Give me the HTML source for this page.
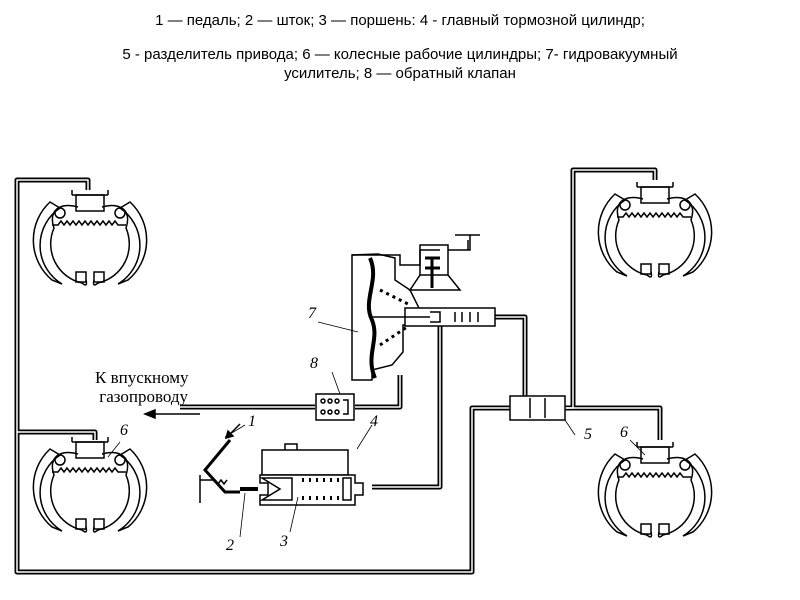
<!DOCTYPE html>
<html><head><meta charset="utf-8"><style>
html,body{margin:0;padding:0;background:#fff;width:800px;height:600px;overflow:hidden}
.h{position:absolute;left:0;width:800px;text-align:center;font-family:"Liberation Sans",sans-serif;font-size:15px;color:#000}
</style></head><body>
<div class="h" style="top:12px">1 — педаль; 2 — шток; 3 — поршень: 4 - главный тормозной цилиндр;</div>
<div class="h" style="top:46px">5 - разделитель привода; 6 — колесные рабочие цилиндры; 7- гидровакуумный</div>
<div class="h" style="top:65px">усилитель; 8 — обратный клапан</div>
<svg width="800" height="600" style="position:absolute;left:0;top:0" fill="none" stroke="#000" stroke-width="1.5">
<defs>
<g id="drum">
<path d="M-40,-38 A52,52 0 0 0 -38,40 L-28,44 A45,45 0 0 1 -30,-32 Z"/>
<path d="M40,-38 A52,52 0 0 1 38,40 L28,44 A45,45 0 0 0 30,-32 Z"/>
<path d="M-12,-33 C-30,-38 -42,-30 -36,-12 A40,40 0 0 0 -8,43 Q-2,48 -4,40"/>
<path d="M12,-33 C30,-38 42,-30 36,-12 A40,40 0 0 1 8,43 Q2,48 4,40"/>
<rect x="-14" y="-45" width="28" height="16"/>
<path d="M-18,-45 h36 M-18,-50 v5 M18,-50 v5"/>
<circle cx="-30" cy="-27" r="5"/><circle cx="30" cy="-27" r="5"/>
<path d="M-38,-15 h6 l3,-4 l3,4 l3,-4 l3,4 l3,-4 l3,4 l3,-4 l3,4 l3,-4 l3,4 l3,-4 l3,4 l3,-4 l3,4 l3,-4 l3,4 l3,-4 l3,4 l3,-4 l3,4 h8"/>
<path d="M-14,32 h10 v10 h-10 z M4,32 h10 v10 h-10z"/>
</g>
</defs>
<use href="#drum" x="90" y="240"/>
<use href="#drum" x="655" y="232"/>
<use href="#drum" x="90" y="487"/>
<use href="#drum" x="655" y="492"/>
<g stroke-width="5" stroke-linejoin="round">
<path d="M88,190 V180 H17 V572 H472 V408 H510"/>
<path d="M17,432 H95 V440"/>
<path d="M565,408 H573 V170 H655 V180"/>
<path d="M565,408 H660 V440"/>
<path d="M495,317 H525 V396"/>
<path d="M372,487 H440 V320"/>
<path d="M180,407 H315 M355,407 H400 V375"/>
</g>
<g stroke="#fff" stroke-width="1.5" stroke-linejoin="round">
<path d="M88,190 V180 H17 V572 H472 V408 H510"/>
<path d="M17,432 H95 V440"/>
<path d="M565,408 H573 V170 H655 V180"/>
<path d="M565,408 H660 V440"/>
<path d="M495,317 H525 V396"/>
<path d="M372,487 H440 V320"/>
<path d="M180,407 H315 M355,407 H400 V375"/>
</g>
<rect x="510" y="396" width="55" height="24" fill="#fff"/>
<path d="M530,398 v20 M545,398 v20"/>
<rect x="316" y="394" width="38" height="26" fill="#fff"/>
<circle cx="323" cy="401" r="2"/><circle cx="330" cy="401" r="2"/><circle cx="337" cy="401" r="2"/>
<circle cx="323" cy="412" r="2"/><circle cx="330" cy="412" r="2"/><circle cx="337" cy="412" r="2"/>
<path d="M343,400 h5 v14 h-5"/>
<path d="M352,255 V380 L372,380 L372,370 L392,365 L403,352 V325 L420,325 V310 L410,290 L395,280 V258 L378,254 Z" fill="#fff"/>
<path d="M352,255 H400 V265 H420 V250 H440"/>
<path d="M370,258 C380,280 362,300 372,320 C380,340 365,355 375,378" stroke-width="4"/>
<rect x="420" y="245" width="28" height="30"/>
<path d="M420,275 L410,290 L460,290 L448,275"/>
<path d="M425,258 h15 M425,268 h15 M432,258 v30" stroke-width="3"/>
<path d="M448,250 H470 V235 H480 M455,235 h20 M468,240 v10" />
<path d="M380,290 l30,15 M380,345 l30,-20" stroke-dasharray="3,4" stroke-width="3"/>
<rect x="405" y="308" width="90" height="18" fill="#fff"/>
<path d="M370,317 H430 M430,312 h10 v10 h-10 M455,312 v10 M462,312 v10 M470,312 v10 M478,312 v10"/>
<rect x="262" y="450" width="86" height="25"/>
<path d="M285,450 v-6 h12 v6"/>
<path d="M260,475 h95 v8 h8 v12 h-8 v10 h-95 v-10 h8 v-12 h-8 z" fill="#fff"/>
<path d="M262,478 H292 V500 H262 L280,489 Z"/>
<path d="M302,480 h40 M302,498 h40" stroke-dasharray="2,5" stroke-width="4"/>
<rect x="343" y="478" width="8" height="22"/>
<path d="M240,489 h18" stroke-width="4"/>
<path d="M230,440 L205,470 L225,492 H240" stroke-width="3"/>
<path d="M200,475 v28 M200,480 h15 l3,4 l3,-4 l3,4 l3,-4" />
<path d="M240,424 l-12,12" /><path d="M226,438 l2,-7 l5,5 z" fill="#000"/>
<path d="M150,414 H200"/><path d="M145,414 l10,-4 v8 z" fill="#000"/>
<path d="M332,372 l8,22 M318,322 l40,10 M245,425 l-20,12 M372,425 l-15,24 M240,537 l5,-44 M290,532 l8,-35 M575,435 l-10,-15 M630,440 l15,15 M120,442 l-12,15" stroke-width="0.8"/>
</svg>
<div style="position:absolute;left:95px;top:368px;font-family:'Liberation Serif',serif;font-size:17px;line-height:19px">К впускному<br>&nbsp;газопроводу</div>
<div style="position:absolute;font-family:'Liberation Serif',serif;font-style:italic;font-size:16px">
<span style="position:absolute;left:308px;top:305px">7</span>
<span style="position:absolute;left:310px;top:355px">8</span>
<span style="position:absolute;left:248px;top:413px">1</span>
<span style="position:absolute;left:370px;top:413px">4</span>
<span style="position:absolute;left:226px;top:537px">2</span>
<span style="position:absolute;left:280px;top:533px">3</span>
<span style="position:absolute;left:584px;top:426px">5</span>
<span style="position:absolute;left:620px;top:424px">6</span>
<span style="position:absolute;left:120px;top:422px">6</span>
</div>
</body></html>
